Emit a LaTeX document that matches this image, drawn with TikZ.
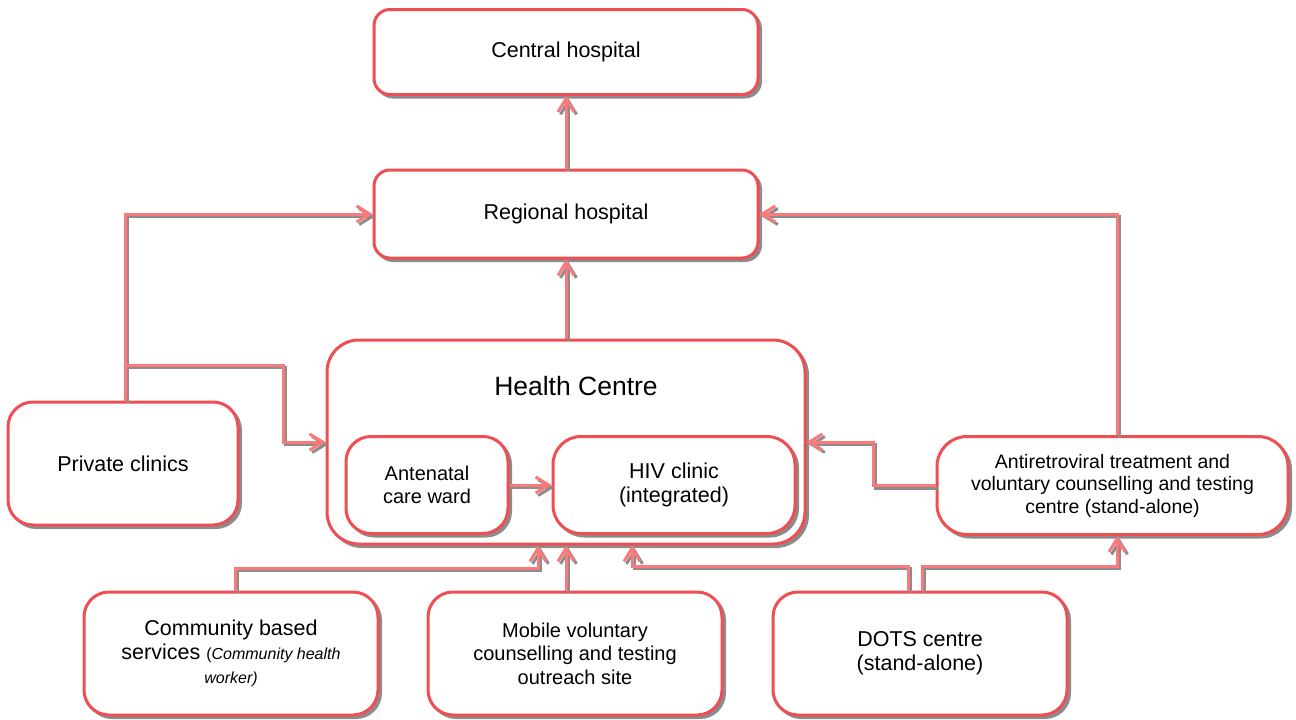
\documentclass[tikz,border=0pt]{standalone}
\usepackage{fontspec}
\setmainfont{Liberation Sans}
\usetikzlibrary{arrows.meta,shadows}
\definecolor{boxred}{RGB}{238,78,84}
\definecolor{linkred}{RGB}{250,122,124}
\definecolor{shadegray}{RGB}{140,140,140}
\newcommand{\smallnote}{\fontsize{16}{20}\selectfont}
\tikzset{
  unitbox/.style={draw=boxred, line width=3pt, fill=white, rounded corners=#1,
    general shadow={fill=shadegray, draw=shadegray, line width=2pt,
      shadow xshift=3pt, shadow yshift=-3pt},
    align=center, inner sep=0pt, text=black,
    font=\fontsize{21.5}{24}\selectfont},
  link/.style={draw=linkred, line width=3pt,
    -{Straight Barb[length=13pt,width=16pt,line width=3pt]},
    preaction={draw=shadegray, line width=3pt,
      transform canvas={shift={(2.5pt,-2.5pt)}}}},
}
\begin{document}
\begin{tikzpicture}[x=1pt,y=-1pt]
\useasboundingbox (0,0) rectangle (1296,720);

% facilities
\node[unitbox=16pt, minimum width=384pt, minimum height=85pt] (central) at (566,52) {Central hospital};
\node[unitbox=16pt, minimum width=384pt, minimum height=88pt] (regional) at (566,214) {Regional hospital};
\node[unitbox=32pt, minimum width=478pt, minimum height=204pt] (health) at (566,442) {};
\node[text=black, font=\fontsize{26.5}{30}\selectfont] (hctitle) at (576,386) {Health Centre};
\node[unitbox=25pt, minimum width=162pt, minimum height=97pt, font=\fontsize{20}{23}\selectfont] (antenatal) at (427,485) {Antenatal\\care ward};
\node[unitbox=28pt, minimum width=242pt, minimum height=97pt] (hiv) at (674,485) {HIV clinic\\(integrated)};
\node[unitbox=25pt, minimum width=230pt, minimum height=123pt] (private) at (123,463.5) {Private clinics};
\node[unitbox=30pt, minimum width=351pt, minimum height=98pt, font=\fontsize{19.5}{22.5}\selectfont] (art) at (1112.5,485.5) {Antiretroviral treatment and\\voluntary counselling and testing\\centre (stand-alone)};
\node[unitbox=25pt, minimum width=294pt, minimum height=123pt] (community) at (231,653.5) {Community based\\services {\smallnote(\textit{Community health}}\\{\smallnote\textit{worker)}}};
\node[unitbox=25pt, minimum width=294pt, minimum height=123pt, font=\fontsize{20}{23.5}\selectfont] (mobile) at (575,653.5) {Mobile voluntary\\counselling and testing\\outreach site};
\node[unitbox=25pt, minimum width=294pt, minimum height=123pt] (dots) at (920,653.5) {DOTS centre\\(stand-alone)};

% referral links
\draw[link] (regional.north) -- (central.south);
\draw[link] (health.north) -- (regional.south);
\draw[link] ([xshift=2pt]private.north) |- (regional.west);
\draw[link] ([xshift=2pt]private.north) -- (125,365) -| (283,442) -- (health.west);
\draw[link] ([xshift=4.5pt]art.north) |- (regional.east);
\draw[link] (art.west) -- (873,485.5) |- (health.east);
\draw[link] (antenatal.east) -- (antenatal.east -| hiv.west);
\draw[link] ([xshift=4pt]community.north) -- (235,568) -| ([xshift=-28pt]health.south);
\draw[link] (mobile.north -| health.south) -- (health.south);
\draw[link] ([xshift=-12pt]dots.north) -- (908,566) -| ([xshift=66pt]health.south);
\draw[link] ([xshift=2pt]dots.north) -- (922,566) -| ([xshift=4.5pt]art.south);
\end{tikzpicture}
\end{document}
